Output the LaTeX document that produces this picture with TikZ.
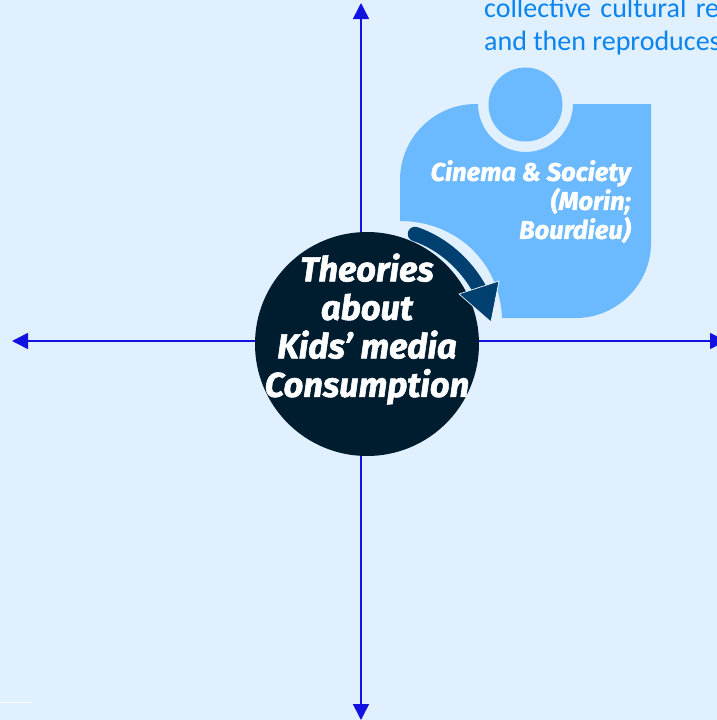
\documentclass[tikz,border=0pt]{standalone}
\usepackage{fontspec}
\setmainfont{Carlito}
\newfontfamily\displayfont[BoldItalicFeatures={FakeBold=1.6}]{Fira Sans}
\usetikzlibrary{arrows.meta}
\definecolor{pagebg}{HTML}{E0F0FF}
\definecolor{axisblue}{HTML}{1212E0}
\definecolor{tilefill}{HTML}{6BB9FF}
\definecolor{hubfill}{HTML}{001D30}
\definecolor{sweep}{HTML}{004070}
\definecolor{bodytext}{HTML}{0A84EE}
\tikzset{
  axisline/.style={draw=axisblue,line width=1.6pt,-{Triangle[length=16pt,width=16pt]}},
  hub/.style={circle,fill=hubfill,minimum size=224pt,inner sep=0pt},
  hubtext/.style={text=white,align=center,font=\displayfont\bfseries\itshape\fontsize{34.5}{38.5}\selectfont},
  tiletext/.style={text=white,align=right,font=\displayfont\bfseries\itshape\fontsize{25.5}{29}\selectfont},
  bodyline/.style={text=bodytext,anchor=base west,inner sep=0pt,font=\fontsize{28}{33}\selectfont},
}
\begin{document}
\begin{tikzpicture}[x=1pt,y=-1pt]
\useasboundingbox (0,0) rectangle (717,720);
\clip (0,0) rectangle (717,720);
\fill[pagebg] (0,0) rectangle (717,720);
\draw[white!70!pagebg,line width=1pt] (0,702) -- (32,702);
% axes
\coordinate (origin) at (361,341);
\coordinate (north) at (361,3);
\coordinate (south) at (361,720);
\coordinate (west) at (12,341);
\coordinate (east) at (726,341);
\draw[axisline] (origin) -- (north);
\draw[axisline] (origin) -- (south);
\draw[axisline] (origin) -- (west);
\draw[axisline] (origin) -- (east);
% tile
\fill[tilefill] (400,180) .. controls (400,138) and (434,104) .. (476,104) -- (478,104)
  .. controls (478,130) and (499,152) .. (525.5,152)
  .. controls (552,152) and (573,130) .. (573,104)
  -- (651,104) -- (651,243)
  .. controls (651,284) and (617,318) .. (576,318) -- (502,318)
  .. controls (500,262) and (456,221) .. (400,221) -- cycle;
\node[circle,fill=tilefill,minimum size=74pt,inner sep=0pt] (knob) at (525.5,104.5) {};
% hub
\node[hub] (hubnode) at (367,344) {};
\node[hubtext,anchor=center] (hublabel) at (367,329) {Theories\\about\\Kids’ media\\Consumption};
% tile label
\node[tiletext,anchor=north east,inner sep=0pt] (tilelabel) at (631,160) {Cinema \& Society\\(Morin;\\Bourdieu)};
% sweep arrow
\coordinate (sweepstart) at (415,234);
\coordinate (sweepend) at (480,290);
\draw[sweep,line width=14.5pt,line cap=round] (sweepstart) .. controls (442,243) and (466,264) .. (sweepend);
\fill[sweep,draw=white!60!pagebg,line width=.7pt] (499,281) -- (459,294) -- (491,322) -- cycle;
% clipped text
\node[bodyline] (lineone) at (484,17) {collective\hspace{3pt} cultural\hspace{3pt} re};
\node[bodyline] (linetwo) at (484,50) {and then reproduces};
\end{tikzpicture}
\end{document}
